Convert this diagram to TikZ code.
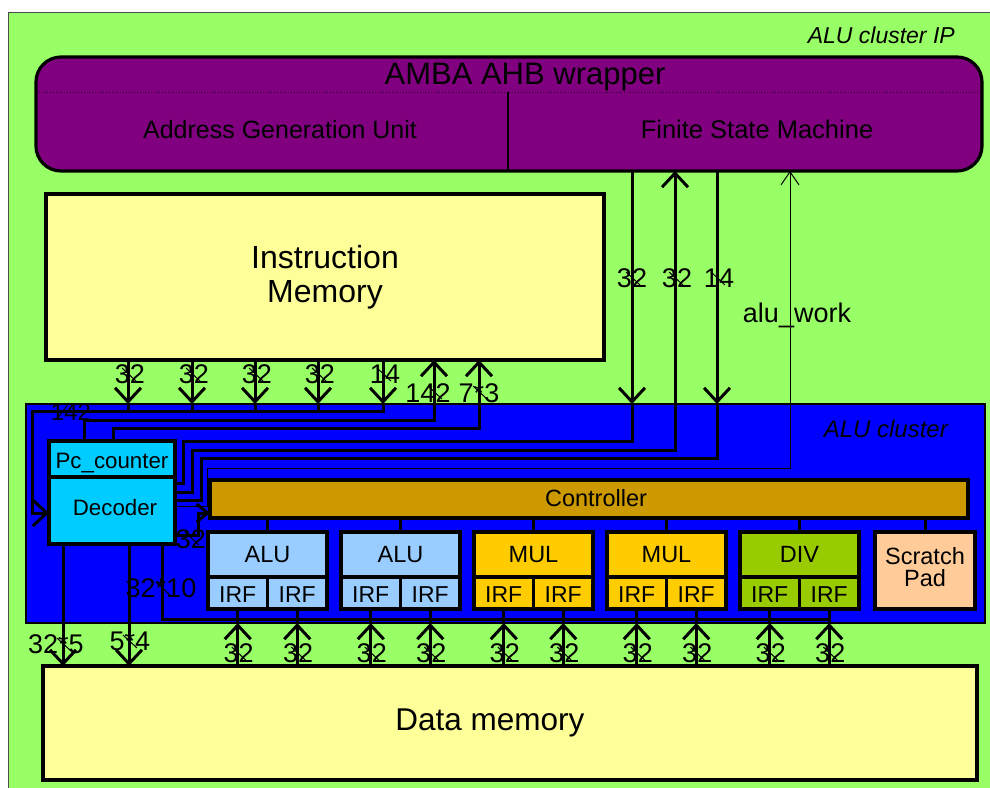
\documentclass[tikz,border=0pt]{standalone}
\usepackage{fontspec}
\setmainfont{Liberation Sans}
\usetikzlibrary{arrows.meta,calc}

\definecolor{ipgreen}{HTML}{99FF66}
\definecolor{ahbpurple}{HTML}{800080}
\definecolor{memyellow}{HTML}{FFFF99}
\definecolor{clusterblue}{HTML}{0000FF}
\definecolor{deccyan}{HTML}{00CCFF}
\definecolor{ctrlbrown}{HTML}{CC9900}
\definecolor{alublue}{HTML}{99CCFF}
\definecolor{mulorange}{HTML}{FFCC00}
\definecolor{divgreen}{HTML}{99CC00}
\definecolor{padpeach}{HTML}{FFCC99}

\newcommand{\fsz}[1]{\fontsize{#1}{#1}\selectfont}
% bus-width tick across a wire
\newcommand{\busmark}[2]{\draw[line width=1pt] (#1-6,#2-7) -- (#1+8,#2+6);}

\begin{document}
\begin{tikzpicture}[x=1pt,y=-1pt,
  box/.style={draw=black, line width=3.2pt, inner sep=0pt, outer sep=0pt},
  wire/.style={line width=3pt, line join=miter},
  thinwire/.style={line width=1pt},
  tip/.style={-{Straight Barb[length=14pt,width=26pt,line width=3pt]}},
  shorttip/.style={-{Straight Barb[length=11pt,width=18pt,line width=3pt]}},
  thintip/.style={-{Straight Barb[length=13pt,width=18pt,line width=1pt]}},
  lbl/.style={font=\fsz{27}, inner sep=0pt, anchor=base},
  txt/.style={inner sep=0pt, anchor=base}]

\useasboundingbox (0,0) rectangle (990,787);
\fill[white] (0,0) rectangle (990,787);

% outer IP frame
\node[draw=black!70, line width=1pt, fill=ipgreen, minimum width=1000pt,
      minimum height=800pt, anchor=north west, inner sep=0pt, outer sep=0pt] (ip) at (8,12) {};
\node[txt, anchor=base east, font=\fsz{23}\itshape] (iplabel) at (955,43) {ALU cluster IP};

% AMBA AHB wrapper
\node[box, fill=ahbpurple, rounded corners=25pt, minimum width=946pt,
      minimum height=114pt, anchor=north west] (amba) at (36,57) {};
\draw[dotted, line width=0.8pt, black!70!ahbpurple] (39,92) -- (979,92);
\draw[line width=1.2pt] (508,92) -- (amba.south -| 508,0);
\node[txt, font=\fsz{31}] (ahbtitle) at (525,84) {AMBA AHB wrapper};
\node[txt, font=\fsz{25}] (agu) at (280,138) {Address Generation Unit};
\node[txt, font=\fsz{25.5}] (fsm) at (757,138) {Finite State Machine};

% instruction memory
\node[box, fill=memyellow, minimum width=558pt, minimum height=166pt,
      anchor=north west, align=center, font=\fontsize{32}{34}\selectfont] (imem) at (46,194) {Instruction\\Memory};

% ALU cluster
\node[draw=black, line width=1.2pt, fill=clusterblue, minimum width=959pt,
      minimum height=219pt, anchor=north west, inner sep=0pt, outer sep=0pt] (clu) at (26,404) {};
\node[txt, anchor=base east, font=\fsz{24}\itshape] (clulabel) at (948,437) {ALU cluster};

% program counter / decoder
\node[box, fill=deccyan, minimum width=126pt, minimum height=36pt, anchor=north west] (pc) at (49,441) {};
\node[box, fill=deccyan, minimum width=126pt, minimum height=67pt, anchor=north west] (dec) at (49,477) {};
\node[txt, font=\fsz{22.3}] (pctxt) at (112,468) {Pc\_counter};
\node[txt, font=\fsz{22.3}] (dectxt) at (115,515) {Decoder};

% controller
\node[box, fill=ctrlbrown, minimum width=758pt, minimum height=38pt, anchor=north west] (ctrl) at (210,480) {};
\node[txt, font=\fsz{23.5}] (ctrltxt) at (596,506) {Controller};

% functional units with their register files
\foreach \n/\x/\col/\lab in {alu1/208/alublue/ALU, alu2/341/alublue/ALU,
                              mul1/474/mulorange/MUL, mul2/607/mulorange/MUL,
                              div/740/divgreen/DIV} {
  \node[box, fill=\col, minimum width=119pt, minimum height=45pt, anchor=north west] (\n) at (\x,532) {};
  \node[box, fill=\col, minimum width=59.5pt, minimum height=32pt, anchor=north west] (\n-L) at (\x,577) {};
  \node[box, fill=\col, minimum width=59.5pt, minimum height=32pt, anchor=north west] (\n-R) at (\x+59.5,577) {};
  \node[txt, font=\fsz{23.5}] (\n-t) at (\x+59.5,562) {\lab};
  \node[txt, font=\fsz{23}] (\n-Lt) at (\x+29.75,602) {IRF};
  \node[txt, font=\fsz{23}] (\n-Rt) at (\x+89.25,602) {IRF};
  \draw[wire] (ctrl.south -| \n.north) -- (\n.north);
}
\node[box, fill=padpeach, minimum width=100pt, minimum height=77pt, anchor=north west] (pad) at (875,532) {};
\node[inner sep=0pt, align=center, font=\fontsize{23.5}{22.5}\selectfont] (padtxt) at (925,567) {Scratch\\Pad};
\draw[wire] (ctrl.south -| pad.north) -- (pad.north);

% data memory
\node[box, fill=memyellow, minimum width=934pt, minimum height=114pt, anchor=north west] (dmem) at (43,666) {};
\node[txt, font=\fsz{31.5}] (dmemtxt) at (490,730) {Data memory};

% instruction memory -> decoder
\foreach \x/\t in {128/32, 192/32, 255/32, 318/32, 383/14} {
  \draw[wire, tip] (imem.south -| \x,0) -- (clu.north -| \x,0);
  \node[lbl] at (\x+2,383) {\t};
  \busmark{\x}{375}
}
\foreach \x in {128,192,255,318} {
  \draw[wire] (clu.north -| \x,0) -- (\x,411);
}
\draw[wire, tip] (clu.north -| 383,0) |- (32,411) |- (dec.west |- 0,513);
\node[lbl, font=\fsz{24}] (l142a) at (71,420) {142};
\draw[line width=1pt] (57,419) -- (69,403);

% program counter -> instruction memory
\draw[wire, tip] (pc.north -| 84,0) |- (434,420) -- (imem.south -| 434,0);
\draw[wire, tip] (pc.north -| 113,0) |- (479,428) -- (imem.south -| 479,0);
\node[lbl] (l142b) at (428,402) {142};
\busmark{434}{393}
\node[lbl] (l73) at (479,402) {7*3};
\busmark{479}{393}

% wrapper FSM <-> decoder
\draw[wire, tip] (amba.south -| 632,0) -- (clu.north -| 632,0);
\draw[wire] (clu.north -| 632,0) |- (183,441) |- (dec.east |- 0,483);
\draw[wire, tip] (dec.east |- 0,492) -| (192,450) -| (amba.south -| 675,0);
\draw[wire, tip] (amba.south -| 717,0) -- (clu.north -| 717,0);
\draw[wire] (clu.north -| 717,0) |- (201,458) |- (dec.east |- 0,500);
\draw[thinwire, thintip] (dec.east |- 0,506) -| (207,468) -| (amba.south -| 790,0);
\node[lbl] (lf1) at (632,287) {32};
\busmark{632}{279}
\node[lbl] (lf2) at (677,287) {32};
\busmark{675}{279}
\node[lbl] (lf3) at (719,287) {14};
\busmark{717}{279}
\node[lbl] (lwork) at (797,322) {alu\_work};

% decoder -> controller
\draw[wire, shorttip] (dec.east |- 0,535) -| (198,513) -- (ctrl.west |- 0,513);
\node[lbl] (lctrl) at (191,548) {32};
\busmark{191}{539}

% decoder -> data memory and register files
\draw[wire, tip] (dec.south -| 63,0) -- (dmem.north -| 63,0);
\draw[wire, tip] (dec.south -| 129,0) -- (dmem.north -| 129,0);
\draw[wire] (dec.south -| 162,0) |- (div-R.south |- 0,619);
\node[lbl] (l325) at (56,653) {32*5};
\busmark{63}{645}
\node[lbl] (l54) at (130,650) {5*4};
\busmark{129}{642}
\node[lbl] (l3210) at (161,597) {32*10};
\busmark{162}{589}

% register files <-> data memory
\foreach \n in {alu1-L,alu1-R,alu2-L,alu2-R,mul1-L,mul1-R,mul2-L,mul2-R,div-L,div-R} {
  \draw[wire, tip] (dmem.north -| \n.south) -- (clu.south -| \n.south);
  \draw[wire] (clu.south -| \n.south) -- (\n.south);
  \path (dmem.north -| \n.south) coordinate (tmp);
  \node[lbl] at ($(tmp)+(1,-4)$) {32};
  \draw[line width=1pt] ($(tmp)+(-6,-19)$) -- ($(tmp)+(8,-6)$);
}
\end{tikzpicture}
\end{document}
